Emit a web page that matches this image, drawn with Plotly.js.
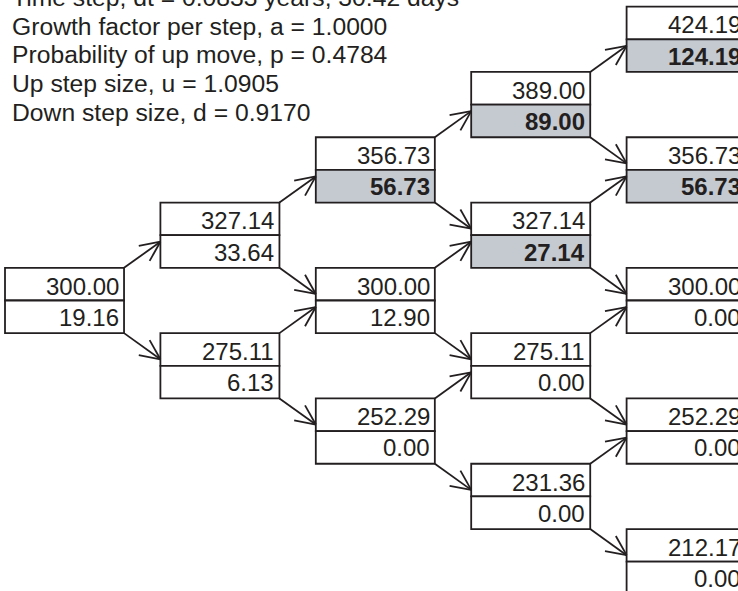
<!DOCTYPE html>
<html><head><meta charset="utf-8">
<script src="https://cdn.plot.ly/plotly-3.0.1.min.js"></script>
<style>html,body{margin:0;padding:0;background:#fff;overflow:hidden}</style>
</head><body><div id="chart" style="width:738px;height:591px"></div>
<script>
// ---- data ----
const headerLines = [
  "Time step, dt = 0.0833 years, 30.42 days",
  "Growth factor per step, a = 1.0000",
  "Probability of up move, p = 0.4784",
  "Up step size, u = 1.0905",
  "Down step size, d = 0.9170"
];
const nodeStep  = [0, 1, 1, 2, 2, 2, 3, 3, 3, 3, 4, 4, 4, 4, 4];
const nodeLevel = [0, 1, -1, 2, 0, -2, 3, 1, -1, -3, 4, 2, 0, -2, -4];
const stockPrice  = [300.00, 327.14, 275.11, 356.73, 300.00, 252.29, 389.00, 327.14, 275.11, 231.36, 424.19, 356.73, 300.00, 252.29, 212.17];
const optionValue = [19.16, 33.64, 6.13, 56.73, 12.90, 0.00, 89.00, 27.14, 0.00, 0.00, 124.19, 56.73, 0.00, 0.00, 0.00];
const exercised   = [false, false, false, true, false, false, true, true, false, false, true, true, false, false, false];

// ---- geometry / style ----
const W = 738, H = 591;
const xRange = [-0.0322, 4.7169], yRange = [-4.449, 4.602];
const boxW = 0.766;
const ink = '#231f20', grey = '#c5c9d0';
const FONT = 'Liberation Sans, Arial, Helvetica, sans-serif';
const px = x => (x - xRange[0]) / (xRange[1] - xRange[0]) * W;
const py = y => H - (y - yRange[0]) / (yRange[1] - yRange[0]) * H;
const dx = p => xRange[0] + p / W * (xRange[1] - xRange[0]);
const dy = p => yRange[0] + (H - p) / H * (yRange[1] - yRange[0]);

const shapes = [], annotations = [];
nodeStep.forEach((s, i) => {
  const k = nodeLevel[i];
  shapes.push({type:'rect', xref:'x', yref:'y', layer:'below', x0:s, x1:s+boxW, y0:k, y1:k+0.5,
    fillcolor:'#ffffff', line:{color:ink, width:1.8}});
  shapes.push({type:'rect', xref:'x', yref:'y', layer:'below', x0:s, x1:s+boxW, y0:k-0.5, y1:k,
    fillcolor: exercised[i] ? grey : '#ffffff', line:{color:ink, width:1.8}});
  const shift = (px(s+boxW) - px(s)) / 2 - 3;
  annotations.push({xref:'x', yref:'y', x:s+boxW/2, y:k+0.25, xanchor:'right', yanchor:'middle',
    xshift:shift, yshift:-2, showarrow:false, text:stockPrice[i].toFixed(2),
    font:{family:FONT, size:24, color:ink}});
  const ov = optionValue[i].toFixed(2);
  annotations.push({xref:'x', yref:'y', x:s+boxW/2, y:k-0.25, xanchor:'right', yanchor:'middle',
    xshift:shift, yshift:-0.5, showarrow:false, text: exercised[i] ? '<b>'+ov+'</b>' : ov,
    font:{family:FONT, size:24, color:ink}});
});

// arrows between nodes
const ax = [], ay = [];
const tipOff = 0.1, armLen = 22, armAng = 25 * Math.PI / 180;
nodeStep.forEach((s, i) => {
  if (s >= 4) return;
  const k = nodeLevel[i];
  [[1, k+0.5, k+1-tipOff], [-1, k-0.5, k-1+tipOff]].forEach(([dir, y0, y1]) => {
    const x0 = s + boxW, x1 = s + 1;
    ax.push(x0, x1, null); ay.push(y0, y1, null);
    const P0 = [px(x0), py(y0)], P1 = [px(x1), py(y1)];
    const L = Math.hypot(P1[0]-P0[0], P1[1]-P0[1]);
    const ux = (P0[0]-P1[0])/L, uy = (P0[1]-P1[1])/L;
    [armAng, -armAng].forEach(a => {
      const rx = ux*Math.cos(a) - uy*Math.sin(a), ry = ux*Math.sin(a) + uy*Math.cos(a);
      ax.push(x1, dx(P1[0] + rx*armLen), null);
      ay.push(y1, dy(P1[1] + ry*armLen), null);
    });
  });
});

const lineH = 28.57, firstBase = 6.4, fs = 24.7;
headerLines.forEach((t, j) => {
  const center = firstBase + j*lineH - 0.35*fs;
  annotations.push({xref:'paper', yref:'paper', x:10/W, y:1 - center/H, xanchor:'left', yanchor:'middle',
    showarrow:false, text:t, font:{family:FONT, size:fs, color:ink}});
});

const traces = [{x:ax, y:ay, mode:'lines', type:'scatter', hoverinfo:'skip',
  line:{color:ink, width:1.8}, cliponaxis:false}];

const layout = {
  width:W, height:H, margin:{l:0, r:0, t:0, b:0},
  paper_bgcolor:'#ffffff', plot_bgcolor:'#ffffff', showlegend:false,
  xaxis:{range:xRange, visible:false, fixedrange:true},
  yaxis:{range:yRange, visible:false, fixedrange:true},
  shapes, annotations
};
Plotly.newPlot('chart', traces, layout, {displayModeBar:false, staticPlot:true});
</script></body></html>
